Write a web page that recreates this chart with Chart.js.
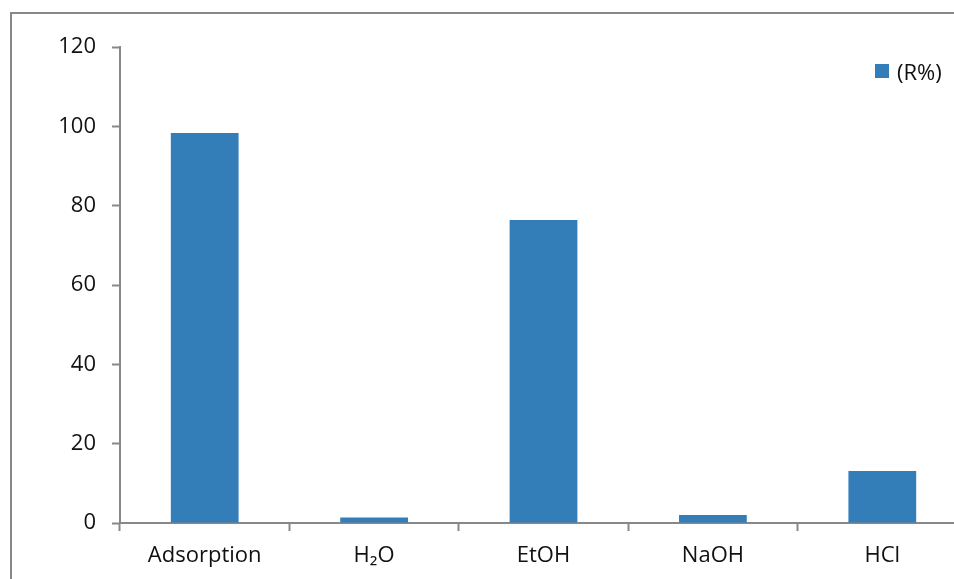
<!DOCTYPE html>
<html>
<head>
<meta charset="utf-8">
<script src="https://cdn.jsdelivr.net/npm/chart.js@4.4.1/dist/chart.umd.min.js"></script>
<style>
  html, body { margin: 0; padding: 0; background: #fff; overflow: hidden; width: 954px; height: 579px; }
  #frame { position: absolute; left: 10px; top: 12px; width: 1000px; height: 700px; border: 2px solid #888; box-sizing: border-box; }
  #wrap { position: absolute; left: 0; top: 0; width: 967px; height: 600px; }
  #legend { position: absolute; left: 875px; top: 56px; font-family: 'Open Sans', sans-serif; font-size: 22px; color: #111; display: flex; align-items: center; }
  #legend span.box { display: inline-block; width: 14px; height: 14px; background: #337DB9; margin-right: 8px; }
</style>
</head>
<body>
<div id="frame"></div>
<div id="wrap"><canvas id="chart"></canvas></div>
<div id="legend"><span class="box"></span><span id="legendText"></span></div>
<script>
// data
const categories = ['Adsorption', 'H\u2082O', 'EtOH', 'NaOH', 'HCl'];
const removal = [98.3, 1.4, 76.4, 2.0, 13.1];
const seriesLabel = '(R%)';
const yMin = 0;
const yMax = 120;
const yStep = 20;

const axisColor = '#888888';
const barColor = '#337DB9';

document.getElementById('legendText').textContent = seriesLabel;

(function () {
    const canvas = document.getElementById('chart');
    const ctx = canvas.getContext('2d');

    new Chart(ctx, {
        type: 'bar',
        data: {
            labels: categories,
            datasets: [{
                label: seriesLabel,
                data: removal,
                backgroundColor: barColor,
                borderWidth: 0,
                barPercentage: 0.4,
                categoryPercentage: 1.0
            }]
        },
        options: {
            responsive: true,
            maintainAspectRatio: false,
            animation: false,
            layout: { padding: { top: 47, left: 0, right: 0, bottom: 0 } },
            plugins: {
                legend: { display: false },
                tooltip: { enabled: false }
            },
            scales: {
                x: {
                    afterFit: (scale) => { scale.height = 77; },
                    border: { color: axisColor, width: 2 },
                    grid: {
                        display: true,
                        drawOnChartArea: false,
                        drawTicks: true,
                        tickLength: 8,
                        tickWidth: 2,
                        tickColor: axisColor,
                        offset: true
                    },
                    ticks: {
                        color: '#111',
                        padding: 12,
                        font: { family: 'Open Sans', size: 22 },
                        maxRotation: 0
                    }
                },
                y: {
                    min: yMin,
                    max: yMax,
                    afterFit: (scale) => { scale.width = 120; },
                    border: { color: axisColor, width: 2 },
                    grid: {
                        display: true,
                        drawOnChartArea: false,
                        drawTicks: true,
                        tickLength: 8,
                        tickWidth: 2,
                        tickColor: axisColor
                    },
                    ticks: {
                        stepSize: yStep,
                        color: '#111',
                        padding: 16,
                        font: { family: 'Open Sans', size: 22 }
                    }
                }
            }
        }
    });
})();
</script>
</body>
</html>
